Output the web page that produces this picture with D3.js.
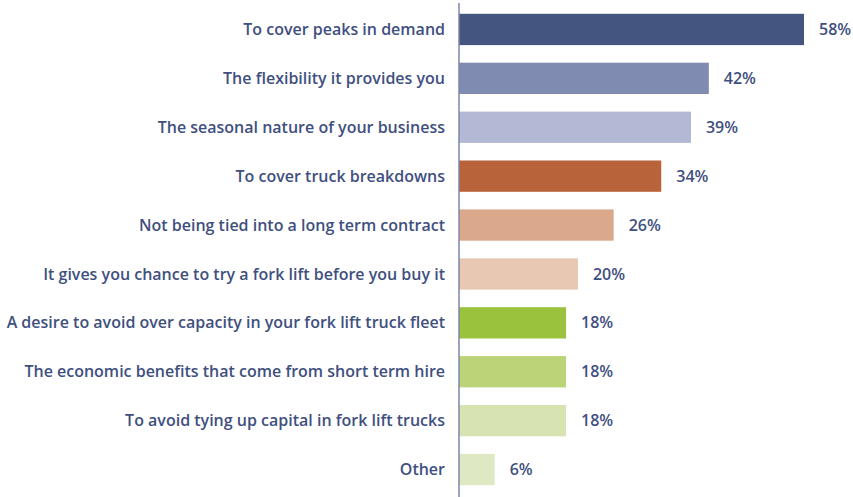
<!DOCTYPE html>
<html>
<head>
<meta charset="utf-8">
<script src="https://cdn.jsdelivr.net/npm/d3@7"></script>
<style>
  html, body { margin: 0; padding: 0; background: #ffffff; }
  svg { display: block; }
  text { font-family: "Open Sans", "Roboto", sans-serif; font-weight: 600; fill: #3f5080; }
</style>
</head>
<body>
<svg id="chart" width="853" height="497"></svg>
<script>
// Reasons for choosing short term fork lift hire (share of respondents)
const categories = [
  "To cover peaks in demand",
  "The flexibility it provides you",
  "The seasonal nature of your business",
  "To cover truck breakdowns",
  "Not being tied into a long term contract",
  "It gives you chance to try a fork lift before you buy it",
  "A desire to avoid over capacity in your fork lift truck fleet",
  "The economic benefits that come from short term hire",
  "To avoid tying up capital in fork lift trucks",
  "Other"
];
const values = [58, 42, 39, 34, 26, 20, 18, 18, 18, 6];
const barColors = [
  "#44557f", "#7f8bb0", "#b3b9d4", "#b86339", "#daa88a",
  "#e8c8b3", "#9ac23c", "#bcd477", "#d7e4b1", "#dee9c4"
];

const svg = d3.select("#chart");
const axisX = 459;

const x = d3.scaleLinear().domain([0, 58]).range([axisX, 804]);
const y = d3.scaleBand().domain(categories).range([5, 494]).paddingInner(0.36).paddingOuter(0.18);

// bars
svg.selectAll("rect.bar")
  .data(values)
  .join("rect")
  .attr("class", "bar")
  .attr("x", x(0))
  .attr("y", (d, i) => y(categories[i]))
  .attr("width", d => x(d) - x(0))
  .attr("height", y.bandwidth())
  .attr("fill", (d, i) => barColors[i]);

// category labels
svg.selectAll("text.cat")
  .data(categories)
  .join("text")
  .attr("class", "cat")
  .attr("x", axisX - 14)
  .attr("y", d => y(d) + y.bandwidth() / 2)
  .attr("dy", "0.35em")
  .attr("text-anchor", "end")
  .attr("font-size", 16)
  .text(d => d);

// value labels
svg.selectAll("text.val")
  .data(values)
  .join("text")
  .attr("class", "val")
  .attr("x", d => x(d) + 15)
  .attr("y", (d, i) => y(categories[i]) + y.bandwidth() / 2)
  .attr("dy", "0.35em")
  .attr("font-size", 16)
  .attr("font-weight", 700)
  .text(d => d + "%");

// vertical axis line
svg.append("line")
  .attr("x1", axisX).attr("x2", axisX)
  .attr("y1", 3).attr("y2", 497)
  .attr("stroke", "#7b86a8")
  .attr("stroke-width", 1.5);
</script>
</body>
</html>
